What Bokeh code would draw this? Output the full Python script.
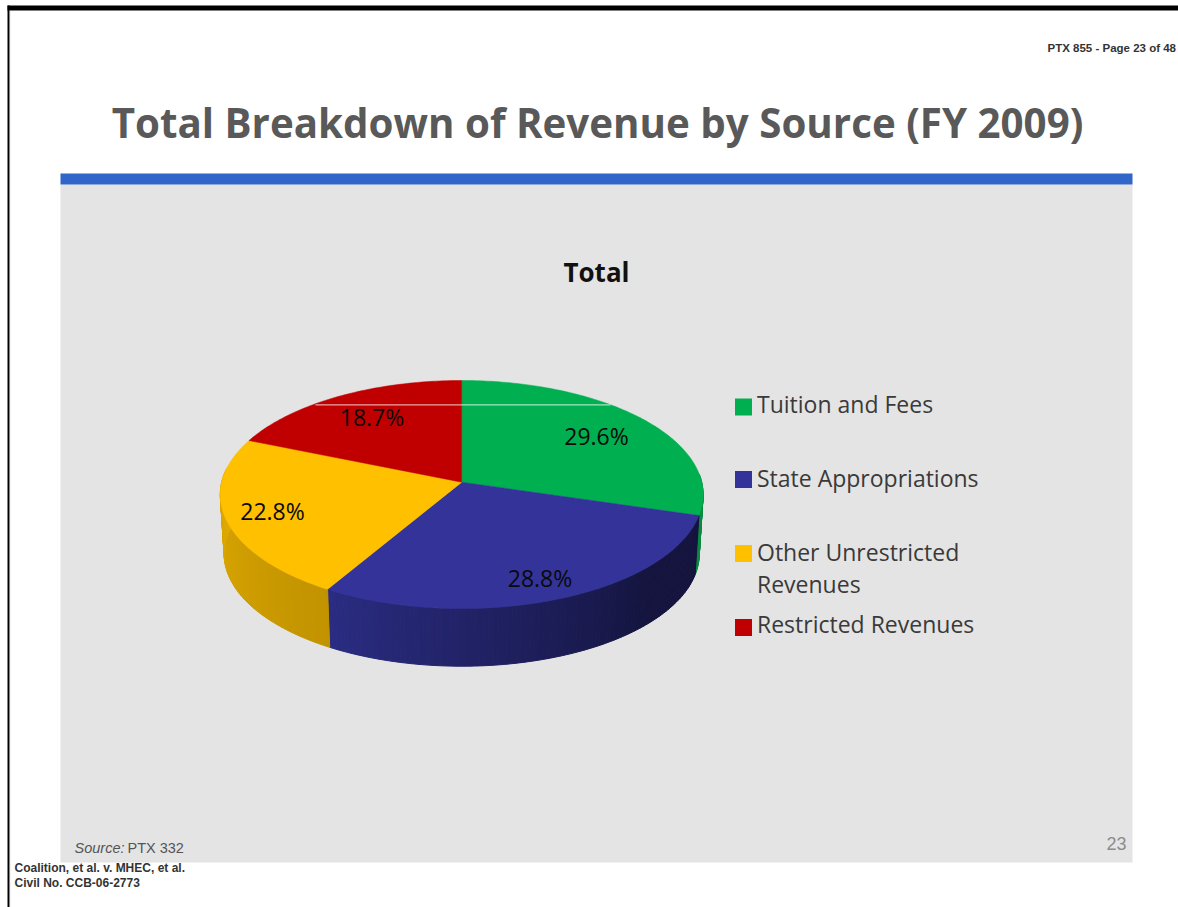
import math
from bokeh.plotting import figure
from bokeh.models import Range1d
from bokeh.core.properties import value
from bokeh.embed import file_html
from bokeh.resources import INLINE

# ---- data ----
CATEGORIES = ["Tuition and Fees", "State Appropriations", "Other Unrestricted\nRevenues", "Restricted Revenues"]
SHARES = [29.6, 28.8, 22.8, 18.7]
SHARE_LABELS = ["29.6%", "28.8%", "22.8%", "18.7%"]
TITLE = "Total Breakdown of Revenue by Source (FY 2009)"
CHART_TITLE = "Total"

# ---- style / layout ----
COLORS = ["#00b050", "#333399", "#ffc000", "#c00000"]
LABEL_XY = [(596, 435), (539.5, 577), (272, 510.5), (371.5, 416)]
LEGEND_Y = [406.5, 479, 553, 627]
LEGEND_TEXT_Y = [403, 477, 567, 623]
SIDE_START = {0: ("#0b8a42", "#0b8a42"), 1: ("#2a2c82", "#14143e"), 2: ("#dfaa00", "#c29300")}
FONT = "Open Sans"
CX, CY, RX, RY, K = 461.2, 481.7, 240.0, 112.7, 0.108
SHIFT, SCALE = 59.7, 0.984

WIDTH, HEIGHT = 1178, 907
p = figure(width=WIDTH, height=HEIGHT, output_backend="svg", toolbar_location=None,
           x_range=Range1d(0, WIDTH), y_range=Range1d(HEIGHT, 0),
           min_border=0, outline_line_color=None, background_fill_color="white", border_fill_color="white")
p.xaxis.visible = False
p.yaxis.visible = False
p.grid.visible = False


def rim(theta_deg, scale=1.0, dy=0.0):
    t = math.radians(theta_deg)
    u, v = math.sin(t), -math.cos(t)
    w = 1 / (1 - K * v)
    return CX + scale * RX * u * w, CY + dy + scale * RY * v * w


def mix(c1, c2, f):
    a = [int(c1[i:i + 2], 16) for i in (1, 3, 5)]
    b = [int(c2[i:i + 2], 16) for i in (1, 3, 5)]
    return "#%02x%02x%02x" % tuple(round(x + (y - x) * f) for x, y in zip(a, b))


# page furniture
p.quad(left=[7], right=[1178], top=[5], bottom=[10], fill_color="black", line_color=None)
p.quad(left=[7], right=[9], top=[5], bottom=[907], fill_color="black", line_color=None)
p.quad(left=[9], right=[9.6], top=[10], bottom=[907], fill_color="#888888", line_color=None)
p.quad(left=[60], right=[1132], top=[184], bottom=[862], fill_color="#e4e4e4", line_color=None)
p.quad(left=[60], right=[1132], top=[173], bottom=[184], fill_color="#3065c9", line_color=None)

# pie geometry from the shares
total = sum(SHARES)
edges = [0.0]
for s in SHARES:
    edges.append(edges[-1] + 360.0 * s / total)

# extruded side
sx, sy, sc = [], [], []
visible = [(86.0, edges[1], 0), (edges[1], edges[2], 1), (edges[2], 277.0, 2)]
for a0, a1, idx in visible:
    c_left, c_right = SIDE_START[idx]
    n = max(2, int(a1 - a0))
    for j in range(n):
        t0 = a0 + (a1 - a0) * j / n
        t1 = a0 + (a1 - a0) * (j + 1) / n
        xa, ya = rim(t0)
        xb, yb = rim(t1)
        xc, yc = rim(t1, SCALE, SHIFT)
        xd, yd = rim(t0, SCALE, SHIFT)
        f = (j + 0.5) / n
        if idx == 1:
            col = mix(c_right, c_left, min(1.0, max(0.0, (f - 0.25) / 0.75)))
        elif idx == 2:
            col = mix(c_right, c_left, f)
        else:
            col = c_left
        sx.append([xa, xb, xc, xd])
        sy.append([ya, yb, yc, yd])
        sc.append(col)
p.patches(sx, sy, fill_color=sc, line_color=sc, line_width=1)

# top face
for i in range(len(SHARES)):
    a0, a1 = edges[i], edges[i + 1]
    n = int(a1 - a0) + 2
    pts = [rim(a0 + (a1 - a0) * j / n) for j in range(n + 1)]
    xs = [CX] + [q[0] for q in pts]
    ys = [CY] + [q[1] for q in pts]
    p.patch(xs, ys, fill_color=COLORS[i], line_color=COLORS[i], line_width=0.5)

# scan artefact across the top of the pie
p.segment([315], [404.3], [610], [404.3], line_color="#ffffff", line_alpha=0.65, line_width=1.2)


def text(x, y, s, size, color="#111111", font=FONT, style="normal", align="left", baseline="middle", lh=1.2):
    p.text([x], [y], text=[s], text_font=value(font), text_font_size=f"{size}px", text_font_style=style,
           text_color=color, text_align=align, text_baseline=baseline, text_line_height=lh)


# data labels
for (x, y), s in zip(LABEL_XY, SHARE_LABELS):
    text(x, y, s, 23, align="center", color="#0a0a0a")

# legend
for y, c in zip(LEGEND_Y, COLORS):
    p.quad(left=[734.5], right=[751.5], top=[y - 8.5], bottom=[y + 8.5], fill_color=c, line_color=None)
for y, s in zip(LEGEND_TEXT_Y, CATEGORIES):
    text(756.5, y, s, 23, color="#3a3a3a", lh=1.0)

# titles and notes
text(597, 122, TITLE, 40.3, color="#595959", style="bold", align="center")
text(596, 271, CHART_TITLE, 26, color="#111111", style="bold", align="center")
text(1047, 47, "PTX 855 - Page 23 of 48", 11.5, color="#333333", font="Liberation Sans", style="bold")
text(74, 847, "Source:", 14.5, color="#555555", font="Liberation Sans", style="italic")
text(127, 847, "PTX 332", 14.5, color="#555555", font="Liberation Sans")
text(1106, 843, "23", 18, color="#8c8c8c", font="Liberation Sans")
text(14, 867, "Coalition, et al. v. MHEC, et al.", 12, color="#333333", font="Liberation Sans", style="bold")
text(14, 882, "Civil No. CCB-06-2773", 12, color="#333333", font="Liberation Sans", style="bold")

open("out.html", "w").write(file_html(p, INLINE))
